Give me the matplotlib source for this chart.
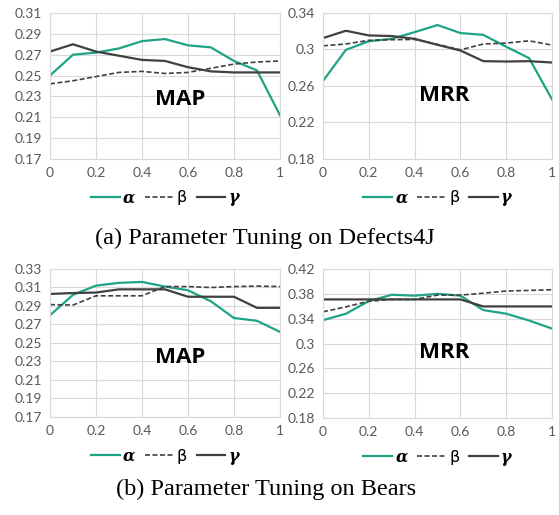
import matplotlib
matplotlib.use('Agg')
import matplotlib.pyplot as plt
from matplotlib.lines import Line2D

# parameter values on the x axis
params = [0.0, 0.1, 0.2, 0.3, 0.4, 0.5, 0.6, 0.7, 0.8, 0.9, 1.0]

# (a) Defects4J
d4j_map_alpha = [0.250, 0.270, 0.272, 0.276, 0.283, 0.285, 0.279, 0.277, 0.264, 0.255, 0.212]
d4j_map_beta = [0.242, 0.245, 0.249, 0.253, 0.254, 0.252, 0.253, 0.257, 0.261, 0.263, 0.264]
d4j_map_gamma = [0.273, 0.280, 0.273, 0.269, 0.265, 0.264, 0.258, 0.254, 0.253, 0.253, 0.253]

d4j_mrr_alpha = [0.2655, 0.2996, 0.309, 0.3117, 0.319, 0.3268, 0.318, 0.316, 0.303, 0.2905, 0.2453]
d4j_mrr_beta = [0.304, 0.306, 0.310, 0.3107, 0.311, 0.3055, 0.2996, 0.306, 0.307, 0.3095, 0.3048]
d4j_mrr_gamma = [0.3125, 0.3205, 0.3154, 0.3147, 0.3117, 0.3051, 0.2989, 0.2872, 0.2868, 0.2872, 0.2857]

# (b) Bears
bears_map_alpha = [0.280, 0.302, 0.312, 0.315, 0.316, 0.311, 0.307, 0.295, 0.277, 0.274, 0.262]
bears_map_beta = [0.2915, 0.291, 0.301, 0.301, 0.301, 0.311, 0.311, 0.310, 0.311, 0.3115, 0.311]
bears_map_gamma = [0.303, 0.304, 0.3045, 0.308, 0.308, 0.308, 0.300, 0.300, 0.300, 0.288, 0.288]

bears_mrr_alpha = [0.3376, 0.3479, 0.3683, 0.3785, 0.377, 0.380, 0.377, 0.3538, 0.348, 0.337, 0.324]
bears_mrr_beta = [0.351, 0.359, 0.368, 0.371, 0.371, 0.378, 0.378, 0.381, 0.3845, 0.3855, 0.3866]
bears_mrr_gamma = [0.371, 0.371, 0.371, 0.371, 0.371, 0.371, 0.371, 0.3597, 0.3597, 0.3597, 0.3597]

x_ticks = [0, 0.2, 0.4, 0.6, 0.8, 1]
x_labels = ['0', '0.2', '0.4', '0.6', '0.8', '1']

TEAL = '#1fa386'
DARK = '#404040'
GRID = '#d9d9d9'
TICK_COLOR = '#595959'
TICK_FONT = 'Lato'


def draw_panel(ax, alpha, beta, gamma, yticks, ylabels, name, name_pos):
    ax.plot(params, alpha, color=TEAL, lw=1.6)
    ax.plot(params, beta, color=DARK, lw=1.2, ls=(0, (3, 1.5)))
    ax.plot(params, gamma, color=DARK, lw=1.6)
    ax.set_xlim(0, 1)
    ax.set_ylim(yticks[0], yticks[-1])
    ax.set_xticks(x_ticks)
    ax.set_xticklabels(x_labels)
    ax.set_yticks(yticks)
    ax.set_yticklabels(ylabels)
    ax.grid(True, color=GRID, lw=0.8)
    ax.set_axisbelow(True)
    for s in ax.spines.values():
        s.set_color(GRID)
        s.set_linewidth(0.8)
    ax.tick_params(length=0, labelsize=10, colors=TICK_COLOR, pad=6)
    for lab in ax.get_xticklabels() + ax.get_yticklabels():
        lab.set_fontfamily(TICK_FONT)
    ax.text(name_pos[0], name_pos[1], name, transform=ax.transAxes,
            ha='center', va='center', fontsize=16, fontweight='bold',
            family='Open Sans', color='black')

    handles = [Line2D([], [], color=TEAL, lw=1.6),
               Line2D([], [], color=DARK, lw=1.2, ls=(0, (3, 1.5))),
               Line2D([], [], color=DARK, lw=1.6)]
    leg = ax.legend(handles, ['α', 'β', 'γ'], loc='upper center',
                    bbox_to_anchor=(0.5, -0.11), ncol=3, frameon=False,
                    handlelength=1.8, handletextpad=0.2, columnspacing=0.6,
                    fontsize=11.5)
    texts = leg.get_texts()
    texts[0].set_fontstyle('italic')
    texts[0].set_fontweight('bold')
    texts[0].set_fontfamily('DejaVu Serif')
    texts[1].set_fontfamily('DejaVu Sans')
    texts[2].set_fontstyle('italic')
    texts[2].set_fontweight('bold')
    texts[2].set_fontfamily('DejaVu Serif')


fig = plt.figure(figsize=(5.59, 5.15), dpi=100)

ax1 = fig.add_axes([0.0894, 0.6913, 0.4114, 0.2835])
ax2 = fig.add_axes([0.5778, 0.6913, 0.4097, 0.2835])
ax3 = fig.add_axes([0.0894, 0.1903, 0.4114, 0.2874])
ax4 = fig.add_axes([0.5778, 0.1883, 0.4097, 0.2894])

draw_panel(ax1, d4j_map_alpha, d4j_map_beta, d4j_map_gamma,
           [0.17, 0.19, 0.21, 0.23, 0.25, 0.27, 0.29, 0.31],
           ['0.17', '0.19', '0.21', '0.23', '0.25', '0.27', '0.29', '0.31'],
           'MAP', (0.565, 0.41))
draw_panel(ax2, d4j_mrr_alpha, d4j_mrr_beta, d4j_mrr_gamma,
           [0.18, 0.22, 0.26, 0.30, 0.34],
           ['0.18', '0.22', '0.26', '0.3', '0.34'],
           'MRR', (0.53, 0.434))
draw_panel(ax3, bears_map_alpha, bears_map_beta, bears_map_gamma,
           [0.17, 0.19, 0.21, 0.23, 0.25, 0.27, 0.29, 0.31, 0.33],
           ['0.17', '0.19', '0.21', '0.23', '0.25', '0.27', '0.29', '0.31', '0.33'],
           'MAP', (0.565, 0.40))
draw_panel(ax4, bears_mrr_alpha, bears_mrr_beta, bears_mrr_gamma,
           [0.18, 0.22, 0.26, 0.30, 0.34, 0.38, 0.42],
           ['0.18', '0.22', '0.26', '0.3', '0.34', '0.38', '0.42'],
           'MRR', (0.53, 0.443))

fig.text(0.474, 1 - 238 / 515, '(a) Parameter Tuning on Defects4J', ha='center',
         va='center', fontsize=17.5, family='Liberation Serif')
fig.text(0.476, 1 - 489 / 515, '(b) Parameter Tuning on Bears', ha='center',
         va='center', fontsize=17.5, family='Liberation Serif')

fig.savefig('out.png', dpi=100)
plt.close(fig)
